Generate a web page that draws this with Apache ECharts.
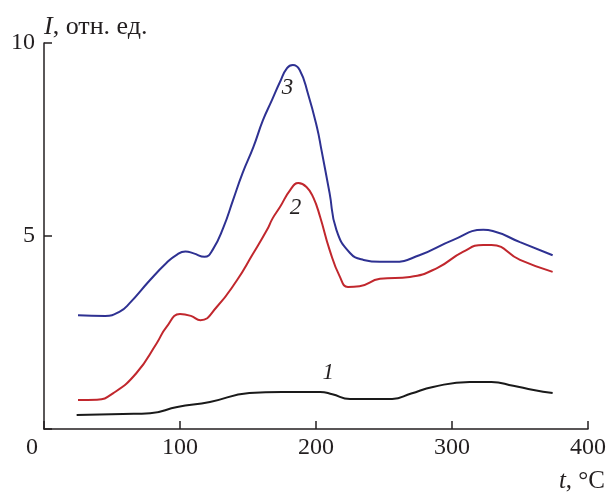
<!DOCTYPE html>
<html>
<head>
<meta charset="utf-8">
<script src="https://cdn.jsdelivr.net/npm/echarts@6/dist/echarts.min.js"></script>
<style>
  html, body { margin: 0; padding: 0; background: #fff; }
  #chart { width: 607px; height: 493px; }
</style>
</head>
<body>
<div id="chart"></div>
<script>
  // кривая 1
  const temp1 = [24, 58, 78, 98, 122, 151, 175, 203, 212, 225, 256, 270, 286, 313, 329, 345, 360, 374];
  const int1 = [0.36, 0.39, 0.41, 0.57, 0.7, 0.93, 0.96, 0.96, 0.9, 0.78, 0.78, 0.92, 1.09, 1.22, 1.22, 1.12, 1.01, 0.93];
  // кривая 2
  const temp2 = [25, 39, 51, 68, 83, 90, 100, 108, 115, 127, 142, 153, 164, 168, 173.5, 181, 187, 193, 198, 203, 210, 217.6, 223.5, 232, 247, 269, 289, 308, 323, 329, 350, 374];
  const int2 = [0.75, 0.76, 0.93, 1.45, 2.23, 2.64, 2.98, 2.93, 2.82, 3.16, 3.86, 4.5, 5.16, 5.45, 5.75, 6.19, 6.37, 6.27, 6.0, 5.5, 4.64, 3.94, 3.68, 3.7, 3.89, 3.94, 4.17, 4.59, 4.77, 4.77, 4.38, 4.07];
  // кривая 3
  const temp3 = [25, 45, 56, 63, 78, 90, 97, 104, 110, 118, 124, 132, 139, 146, 154, 161, 167.6, 173.5, 178.7, 183, 188, 194, 200.7, 204, 210, 215, 225, 235, 247, 257, 276, 301, 323, 330, 350, 374];
  const int3 = [2.95, 2.93, 3.05, 3.26, 3.86, 4.3, 4.5, 4.6, 4.55, 4.46, 4.64, 5.23, 5.93, 6.63, 7.31, 8.0, 8.52, 8.99, 9.35, 9.43, 9.3, 8.7, 7.82, 7.23, 6.11, 5.16, 4.56, 4.38, 4.33, 4.33, 4.5, 4.9, 5.16, 5.13, 4.84, 4.5];
  // подписи кривых: [номер, t, I]
  const curveLabels = [['1', 209, 1.45], ['2', 185, 5.73], ['3', 179, 8.83]];

  const font = 'Liberation Serif';
  const ink = '#231f20';
  const pairs = (xs, ys) => xs.map((x, i) => [x, ys[i]]);

  function labelPoint(name, x, y) {
    return {
      symbol: 'circle',
      symbolSize: 0,
      silent: true,
      label: {
        show: true, position: 'inside', formatter: name,
        fontFamily: font, fontStyle: 'italic', fontSize: 23, color: ink
      },
      data: [{ coord: [x, y] }]
    };
  }

  function line(name, xs, ys, color) {
    const lbl = curveLabels.find(l => l[0] === name);
    return {
      name: name,
      type: 'line',
      data: pairs(xs, ys),
      smooth: 0.5,
      showSymbol: false,
      lineStyle: { color: color, width: 2 },
      markPoint: labelPoint(lbl[0], lbl[1], lbl[2]),
      animation: false
    };
  }

  const chart = echarts.init(document.getElementById('chart'));
  chart.setOption({
    backgroundColor: '#fff',
    grid: { left: 44, right: 19, top: 43, bottom: 64, containLabel: false, outerBoundsMode: 'none' },
    xAxis: {
      type: 'value', min: 0, max: 400, interval: 100,
      name: '{i|t}, °C', nameLocation: 'end', nameGap: 17,
      nameTextStyle: {
        fontFamily: font, fontSize: 25, color: ink,
        align: 'right', verticalAlign: 'top', padding: [40, 0, 0, 0],
        rich: { i: { fontFamily: font, fontSize: 25, fontStyle: 'italic', color: ink } }
      },
      axisLine: { show: true, lineStyle: { color: ink, width: 1.5 } },
      axisTick: { show: true, inside: true, length: 8, lineStyle: { color: ink, width: 1.5 } },
      axisLabel: {
        fontFamily: font, fontSize: 24, color: ink, margin: 7,
        formatter: v => v === 0 ? '{z|0}' : String(v),
        rich: { z: { fontFamily: font, fontSize: 24, color: ink, padding: [0, 24, 0, 0] } }
      },
      splitLine: { show: false }
    },
    yAxis: {
      type: 'value', min: 0, max: 10, interval: 5,
      name: '{i|I}, отн. ед.', nameLocation: 'end', nameGap: 3,
      nameTextStyle: {
        fontFamily: font, fontSize: 26, color: ink,
        align: 'left',
        rich: { i: { fontFamily: font, fontSize: 26, fontStyle: 'italic', color: ink } }
      },
      axisLine: { show: true, lineStyle: { color: ink, width: 1.5 } },
      axisTick: { show: true, inside: true, length: 8, lineStyle: { color: ink, width: 1.5 } },
      axisLabel: {
        fontFamily: font, fontSize: 24, color: ink, margin: 9,
        formatter: v => v === 0 ? '' : String(v)
      },
      splitLine: { show: false }
    },
    series: [
      line('1', temp1, int1, '#1a1a1a'),
      line('2', temp2, int2, '#c1272d'),
      line('3', temp3, int3, '#2e3192')
    ]
  });
</script>
</body>
</html>
